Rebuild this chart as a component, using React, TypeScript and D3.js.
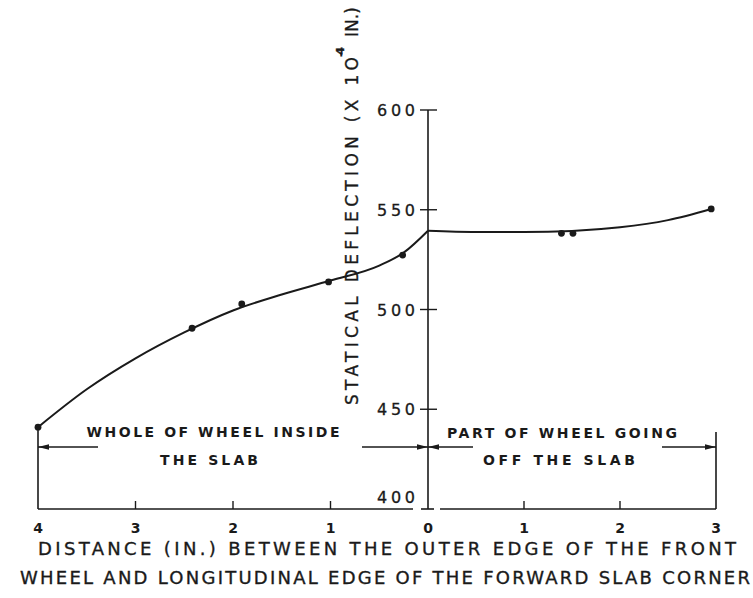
import React from 'react';
import * as d3 from 'd3';

// fitted curve, inside the slab (distance in inches, deflection x10^-4 in.)
const insideCurveDist = [4, 3.5, 3, 2.5, 2, 1.5, 1, 0.5, 0.25, 0];
const insideCurveVal = [441, 460, 475.5, 488.5, 499.5, 507.5, 514.5, 522, 528.5, 539.5];
// fitted curve, wheel going off the slab
const offCurveDist = [0, 0.5, 1, 1.5, 2, 2.5, 2.95];
const offCurveVal = [539.5, 538.9, 538.9, 539.4, 541.2, 544.8, 550.4];

// measured points
const insidePtDist = [4, 2.42, 1.91, 1.02, 0.26];
const insidePtVal = [441, 490.6, 502.8, 513.8, 527.3];
const offPtDist = [1.39, 1.51, 2.95];
const offPtVal = [538.2, 538.2, 550.4];

const xTicksSigned = [-4, -3, -2, -1, 0, 1, 2, 3];
const yTicks = [400, 450, 500, 550, 600];

const FONT = '"DejaVu Sans", "Liberation Sans", sans-serif';
const INK = '#1a1a1a';

const App = () => {
  const width = 753;
  const height = 598;

  // left side is the distance inside the slab, drawn as negative
  const x = d3.scaleLinear().domain([-4, 0, 3]).range([38, 428, 716]);
  const y = d3.scaleLinear().domain([400, 600]).range([509, 110]);
  const x0 = x(0);
  const base = y(400);

  const line = d3.line<[number, number]>()
    .x(d => x(d[0]))
    .y(d => y(d[1]))
    .curve(d3.curveMonotoneX);

  const insidePath = line(insideCurveDist.map((d, i) => [-d, insideCurveVal[i]] as [number, number]));
  const offPath = line(offCurveDist.map((d, i) => [d, offCurveVal[i]] as [number, number]));

  const points = [
    ...insidePtDist.map((d, i) => [-d, insidePtVal[i]]),
    ...offPtDist.map((d, i) => [d, offPtVal[i]]),
  ];

  const arrowY = 447;
  // arrowhead: tip at (tx, arrowY), pointing dir (-1 left, 1 right)
  const head = (tx: number, dir: number) =>
    `M${tx},${arrowY} L${tx - dir * 11},${arrowY - 2.8} L${tx - dir * 11},${arrowY + 2.8} Z`;

  const annot = { fontFamily: FONT, fontSize: 14, fontWeight: 700, fill: INK, textAnchor: 'middle' as const };

  return (
    <svg width={width} height={height} style={{ position: 'absolute', left: 0, top: 0, background: '#fff' }}>
      {/* y axis */}
      <line x1={x0} x2={x0} y1={y(600)} y2={base} stroke={INK} strokeWidth={1.6} />
      {yTicks.filter(t => t > 400).map(t => (
        <line key={t} x1={x0 - 8} x2={x0 + 9} y1={y(t)} y2={y(t)} stroke={INK} strokeWidth={1.4} />
      ))}
      {yTicks.map(t => (
        <text key={t} x={377} y={t === 400 ? base - 6 : y(t) + 6} textLength={38} lengthAdjust="spacing"
          fontFamily={FONT} fontSize={16} fill={INK} stroke={INK} strokeWidth={0.3}>{t}</text>
      ))}

      {/* x axis, broken round the origin */}
      <line x1={x(-4)} x2={413} y1={base} y2={base} stroke={INK} strokeWidth={1.6} />
      <line x1={x0 - 7} x2={x0 + 6} y1={base} y2={base} stroke={INK} strokeWidth={1.6} />
      <line x1={440} x2={x(3)} y1={base} y2={base} stroke={INK} strokeWidth={1.6} />
      {xTicksSigned.filter(t => t !== 0 && t !== -4 && t !== 3).map(t => (
        <line key={t} x1={x(t)} x2={x(t)} y1={base} y2={base - 8} stroke={INK} strokeWidth={1.4} />
      ))}
      {xTicksSigned.map(t => (
        <text key={t} x={x(t)} y={533} textAnchor="middle" fontFamily={FONT} fontSize={14}
          fontWeight={700} fill={INK}>{Math.abs(t)}</text>
      ))}

      {/* boundary lines */}
      <line x1={x(-4)} x2={x(-4)} y1={y(insidePtVal[0])} y2={base} stroke={INK} strokeWidth={1.6} />
      <line x1={x(3)} x2={x(3)} y1={432} y2={base} stroke={INK} strokeWidth={1.6} />

      {/* dimension arrows */}
      <g stroke={INK} strokeWidth={1.3}>
        <line x1={x(-4)} x2={98} y1={arrowY} y2={arrowY} />
        <line x1={362} x2={x0} y1={arrowY} y2={arrowY} />
        <line x1={x0} x2={473} y1={arrowY} y2={arrowY} />
        <line x1={662} x2={x(3)} y1={arrowY} y2={arrowY} />
      </g>
      <g fill={INK}>
        <path d={head(x(-4), -1)} />
        <path d={head(x0, 1)} />
        <path d={head(x0, -1)} />
        <path d={head(x(3), 1)} />
      </g>

      <text {...annot} x={213} y={437} textLength={253} lengthAdjust="spacing">WHOLE OF WHEEL INSIDE</text>
      <text {...annot} x={209} y={465} textLength={98} lengthAdjust="spacing">THE SLAB</text>
      <text {...annot} x={562} y={438} textLength={230} lengthAdjust="spacing">PART OF WHEEL GOING</text>
      <text {...annot} x={559} y={465} textLength={152} lengthAdjust="spacing">OFF THE SLAB</text>

      {/* curves and points */}
      <path d={insidePath || ''} fill="none" stroke={INK} strokeWidth={2} />
      <path d={offPath || ''} fill="none" stroke={INK} strokeWidth={2} />
      {points.map((p, i) => (
        <circle key={i} cx={x(p[0])} cy={y(p[1])} r={3.4} fill={INK} />
      ))}

      {/* y axis title, rotated */}
      <g fontFamily={FONT} fontSize={17} fill={INK} stroke={INK} strokeWidth={0.35}>
        <text transform="translate(358,405) rotate(-90)" textLength={348} lengthAdjust="spacing">STATICAL DEFLECTION (X 1O</text>
        <text transform="translate(344,57) rotate(-90)" fontSize={11} fontWeight={700} textLength={10} lengthAdjust="spacing">-4</text>
        <text transform="translate(358,37) rotate(-90)" textLength={30} lengthAdjust="spacing">IN.)</text>
      </g>

      {/* x axis title */}
      <g fontFamily={FONT} fontSize={18} fill={INK} stroke={INK} strokeWidth={0.35}>
        <text x={38} y={555} textLength={698} lengthAdjust="spacing">DISTANCE (IN.) BETWEEN THE OUTER EDGE OF THE FRONT</text>
        <text x={20} y={584} textLength={730} lengthAdjust="spacing">WHEEL AND LONGITUDINAL EDGE OF THE FORWARD SLAB CORNER</text>
      </g>
    </svg>
  );
};

export default App;
